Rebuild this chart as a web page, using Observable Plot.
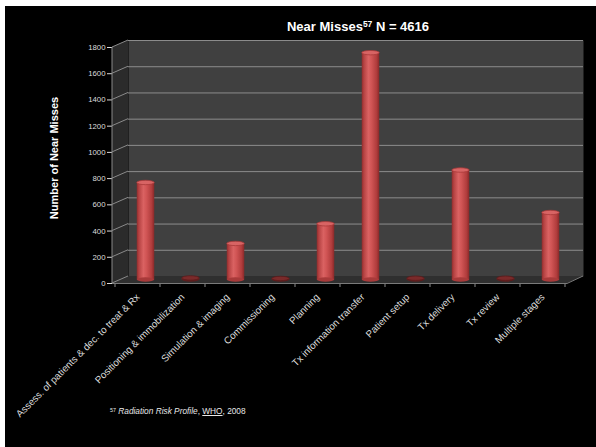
<!DOCTYPE html>
<html>
<head>
<meta charset="utf-8">
<script src="https://cdn.jsdelivr.net/npm/d3@7"></script>
<script src="https://cdn.jsdelivr.net/npm/@observablehq/plot@0.6"></script>
<style>
html, body { margin: 0; padding: 0; background: #fff; }
#wrap { position: absolute; left: 5px; top: 6px; width: 591px; height: 441px; background: #000; overflow: hidden;
  font-family: "Liberation Sans", Arial, sans-serif; color: #fff; }
#title { position: absolute; left: 233px; width: 240px; top: 14px; text-align: center; font-weight: bold; font-size: 13px; line-height: 13px; white-space: nowrap; }
#title sup, #note sup { font-size: 65%; line-height: 0; vertical-align: 0.45em; }
#ylabel { position: absolute; left: -51px; top: 146px; width: 200px; height: 12px; line-height: 12px; text-align: center;
  font-weight: bold; font-size: 11px; transform: rotate(-90deg); transform-origin: 50% 50%; white-space: nowrap; }
#note { position: absolute; left: 105px; top: 401px; font-size: 8.3px; line-height: 9px; color: #e8e8e8; white-space: nowrap; }
#note u { text-decoration: underline; }
#chart { position: absolute; left: 0; top: 0; }
</style>
</head>
<body>
<div id="wrap">
  <div id="chart"></div>
  <div id="title">Near Misses<sup>57</sup> N = 4616</div>
  <div id="ylabel">Number of Near Misses</div>
  <div id="note"><sup>57</sup> <i>Radiation Risk Profile</i>, <u>WHO</u>, 2008</div>
</div>
<script>
const stages = [
  "Assess. of patients & dec. to treat & Rx",
  "Positioning & immobilization",
  "Simulation & imaging",
  "Commissioning",
  "Planning",
  "Tx information transfer",
  "Patient setup",
  "Tx delivery",
  "Tx review",
  "Multiple stages"
];
const nearMisses = [740, 12, 275, 8, 425, 1730, 10, 835, 10, 511];
const yTicks = [0, 200, 400, 600, 800, 1000, 1200, 1400, 1600, 1800];

const data = stages.map((stage, i) => ({stage, count: nearMisses[i]}));
const DX = 16, DY = -7;       // depth offset of the 3D box
const INSET = 13.75;          // bar inset within band

const defsMark = () => {
  const g = d3.create("svg:g");
  const grad = g.append("defs").append("linearGradient").attr("id", "cyl").attr("x1", 0).attr("x2", 1).attr("y1", 0).attr("y2", 0);
  [[0, "#8e2c2c"], [0.12, "#b54242"], [0.38, "#da6262"], [0.55, "#d15555"], [0.85, "#b03c3c"], [1, "#882828"]]
    .forEach(([o, c]) => grad.append("stop").attr("offset", o).attr("stop-color", c));
  return g.node();
};

const boxMark = (index, {x, y}, values, dims) => {
  const g = d3.create("svg:g");
  const x0 = dims.marginLeft, x1 = dims.width - dims.marginRight;
  const yT = y(d3.max(yTicks)), yB = y(0);
  g.append("path").attr("d", `M${x0},${yT}L${x0 + DX},${yT + DY}L${x0 + DX},${yB + DY}L${x0},${yB}Z`).attr("fill", "#2b2b2b");
  g.append("path").attr("d", `M${x0},${yB}L${x1},${yB}L${x1 + DX},${yB + DY}L${x0 + DX},${yB + DY}Z`).attr("fill", "#2f2f2f");
  for (const t of yTicks) {
    g.append("line").attr("x1", x0).attr("y1", y(t)).attr("x2", x0 + DX).attr("y2", y(t) + DY)
      .attr("stroke", "#8a8a8a").attr("stroke-width", 1);
  }
  g.append("line").attr("x1", x0).attr("x2", x0).attr("y1", yT).attr("y2", yB).attr("stroke", "#8a8a8a");
  g.append("line").attr("x1", x0).attr("x2", x1).attr("y1", yB + 0.5).attr("y2", yB + 0.5).attr("stroke", "#7a7a7a");
  g.append("line").attr("x1", x1).attr("x2", x1 + DX).attr("y1", yB + 0.5).attr("y2", yB + DY).attr("stroke", "#7a7a7a");
  const step = x.step ? x.step() : x.bandwidth();
  const bounds = x.domain().map(d => x(d)).concat([x(x.domain()[x.domain().length - 1]) + step]);
  for (const bx of bounds) {
    g.append("line").attr("x1", bx).attr("x2", bx).attr("y1", yB + 1).attr("y2", yB + 4).attr("stroke", "#8a8a8a");
  }
  return g.node();
};

const capMark = (index, {x, y}) => {
  const g = d3.create("svg:g");
  const bw = x.bandwidth();
  const rx = bw / 2 - INSET;
  for (const d of data) {
    const cx = x(d.stage) + bw / 2 + DX / 2;
    const by = y(0) + DY / 2;
    const ty = y(d.count) + DY / 2;
    const small = d.count < 50;
    g.append("ellipse").attr("cx", cx).attr("cy", by).attr("rx", rx).attr("ry", 2.2)
      .attr("fill", small ? "#5e1e1e" : "#a83a3a");
    g.append("ellipse").attr("cx", cx).attr("cy", ty).attr("rx", rx).attr("ry", 2.2)
      .attr("fill", small ? "#7a2a2a" : "#d86464").attr("stroke", small ? "#5a1a1a" : "#a83838").attr("stroke-width", 0.8);
  }
  return g.node();
};

const chart = Plot.plot({
  width: 591,
  height: 441,
  marginLeft: 107,
  marginRight: 29,
  marginTop: 41,
  marginBottom: 164,
  style: {background: "#000", color: "#dcdcdc", fontSize: "9.8px", fontFamily: "Liberation Sans, Arial, sans-serif"},
  x: {domain: stages, padding: 0, tickRotate: -45, tickSize: 0, tickPadding: 12, label: null},
  y: {domain: [0, 1800], ticks: yTicks, tickSize: 5, tickPadding: 2, label: null, tickFormat: d => String(d)},
  marks: [
    defsMark,
    Plot.frame({fill: "#404040", stroke: "none", dx: DX, dy: DY}),
    boxMark,
    Plot.ruleY(yTicks.filter(t => t > 0), {stroke: "#8c8c8c", strokeWidth: 1, dx: DX, dy: DY}),
    Plot.barY(data, {x: "stage", y: "count", fill: "url(#cyl)", insetLeft: INSET, insetRight: INSET, dx: DX / 2, dy: DY / 2}),
    capMark
  ]
});
d3.select(chart).selectAll('[aria-label^="y-axis"] text').attr("font-size", "7.8px");
document.getElementById("chart").appendChild(chart);
</script>
</body>
</html>
